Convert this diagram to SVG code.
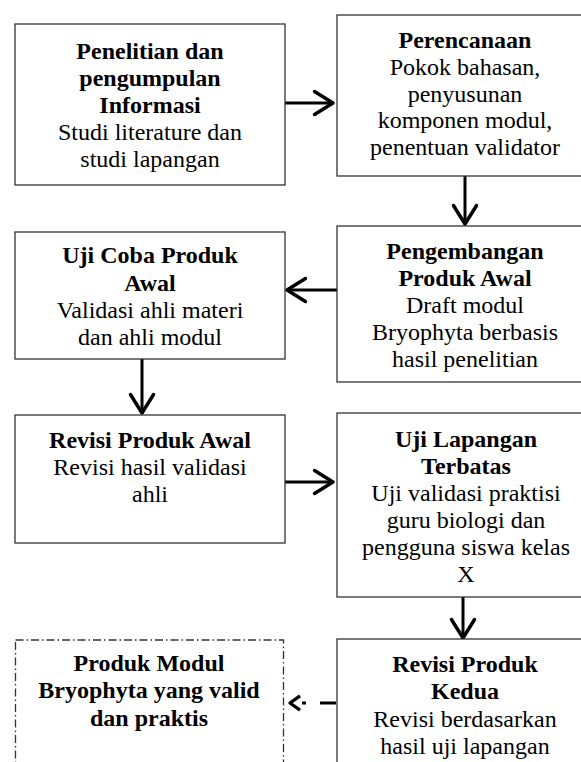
<svg xmlns="http://www.w3.org/2000/svg" width="581" height="762" viewBox="0 0 581 762">
<style>
.box{fill:#fff;stroke:#333;stroke-width:1.3}
.dbox{fill:#fff;stroke:#333;stroke-width:1.3;stroke-dasharray:8 3 1.5 3}
text{font-family:"Liberation Serif","Times New Roman",serif;font-size:24px;fill:#000;text-anchor:middle}
.b{font-weight:bold}
.conn{stroke:#000;stroke-width:3;fill:none}
</style>
<defs>
<marker id="ah" markerUnits="userSpaceOnUse" markerWidth="30" markerHeight="30" viewBox="-20 -13 24 26" refX="0" refY="0" orient="auto">
<path d="M-16,-10 L0,0 L-16,10" fill="none" stroke="#000" stroke-width="3" stroke-linejoin="round" stroke-linecap="round"/>
</marker>
<marker id="ahs" markerUnits="userSpaceOnUse" markerWidth="20" markerHeight="20" viewBox="-12 -9 15 18" refX="0" refY="0" orient="auto">
<path d="M-9,-6.5 L0,0 L-9,6.5" fill="none" stroke="#000" stroke-width="3" stroke-linejoin="round"/>
</marker>
</defs>

<g id="connectors">
<line class="conn" x1="285" y1="103" x2="333" y2="103" marker-end="url(#ah)"/>
<line class="conn" x1="465" y1="176" x2="465" y2="224" marker-end="url(#ah)"/>
<line class="conn" x1="337" y1="290" x2="287" y2="290" marker-end="url(#ah)"/>
<line class="conn" x1="142" y1="359" x2="142" y2="413" marker-end="url(#ah)"/>
<line class="conn" x1="285" y1="482" x2="333" y2="482" marker-end="url(#ah)"/>
<line class="conn" x1="463" y1="597" x2="463" y2="638" marker-end="url(#ah)"/>
<line class="conn" x1="336" y1="703" x2="290" y2="703" stroke-dasharray="16 14 4 100" marker-end="url(#ahs)"/>
</g>

<g id="n1">
<rect class="box" x="15" y="24" width="270" height="161"/>
<text class="b" x="150" y="59">Penelitian dan</text>
<text class="b" x="150" y="86">pengumpulan</text>
<text class="b" x="150" y="113">Informasi</text>
<text x="150" y="140">Studi literature dan</text>
<text x="150" y="167">studi lapangan</text>
</g>

<g id="n2">
<rect class="box" x="337" y="15" width="260" height="161"/>
<text class="b" x="465" y="48">Perencanaan</text>
<text x="465" y="75">Pokok bahasan,</text>
<text x="465" y="102">penyusunan</text>
<text x="465" y="128">komponen modul,</text>
<text x="465" y="155">penentuan validator</text>
</g>

<g id="n3">
<rect class="box" x="15" y="232" width="270" height="127"/>
<text class="b" x="150" y="263">Uji Coba Produk</text>
<text class="b" x="150" y="291">Awal</text>
<text x="150" y="318">Validasi ahli materi</text>
<text x="150" y="345">dan ahli modul</text>
</g>

<g id="n4">
<rect class="box" x="337" y="226" width="260" height="156"/>
<text class="b" x="465" y="259">Pengembangan</text>
<text class="b" x="465" y="286">Produk Awal</text>
<text x="465" y="313">Draft modul</text>
<text x="465" y="340">Bryophyta berbasis</text>
<text x="465" y="367">hasil penelitian</text>
</g>

<g id="n5">
<rect class="box" x="15" y="415" width="270" height="128"/>
<text class="b" x="150" y="448">Revisi Produk Awal</text>
<text x="150" y="475">Revisi hasil validasi</text>
<text x="150" y="502">ahli</text>
</g>

<g id="n6">
<rect class="box" x="337" y="413" width="260" height="184"/>
<text class="b" x="466" y="447">Uji Lapangan</text>
<text class="b" x="466" y="474">Terbatas</text>
<text x="466" y="501">Uji validasi praktisi</text>
<text x="466" y="528">guru biologi dan</text>
<text x="466" y="555">pengguna siswa kelas</text>
<text x="466" y="582">X</text>
</g>

<g id="n7">
<rect class="box" x="337" y="639" width="260" height="140"/>
<text class="b" x="465" y="672">Revisi Produk</text>
<text class="b" x="465" y="699">Kedua</text>
<text x="465" y="727">Revisi berdasarkan</text>
<text x="465" y="754">hasil uji lapangan</text>
</g>

<g id="n8">
<rect class="dbox" x="15.5" y="640" width="268" height="140"/>
<text class="b" x="149" y="671">Produk Modul</text>
<text class="b" x="149" y="698">Bryophyta yang valid</text>
<text class="b" x="149" y="726">dan praktis</text>
</g>
</svg>
